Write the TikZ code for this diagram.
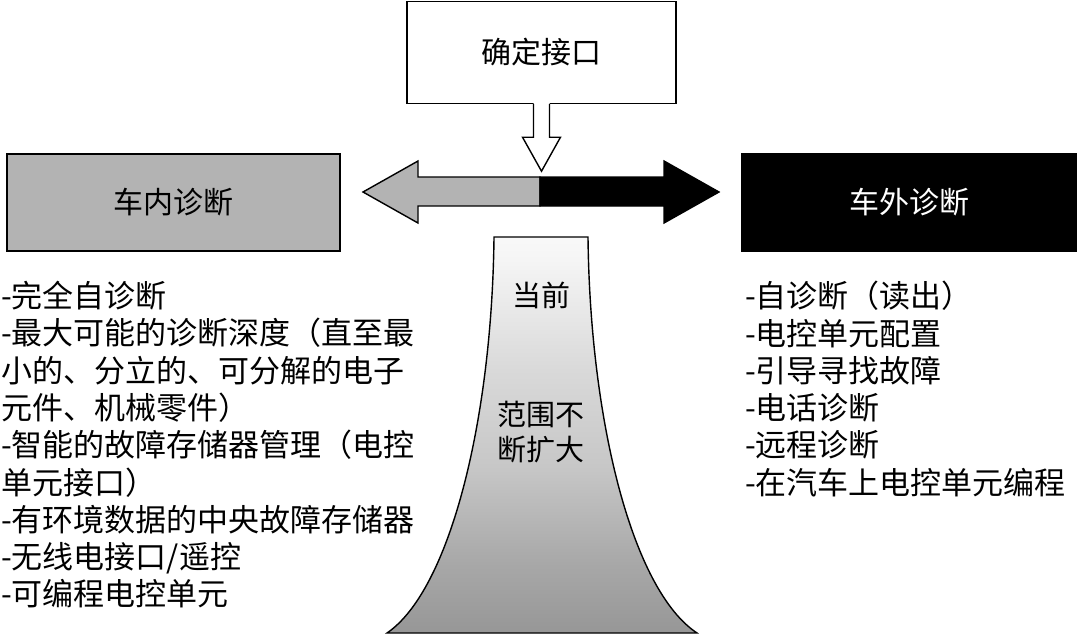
\documentclass[tikz,border=0pt]{standalone}
\usepackage{fontspec}
\setmainfont{Noto Sans CJK SC}
\usetikzlibrary{positioning,calc}
\definecolor{Ash}{HTML}{B3B3B3}
\pgfdeclareverticalshading{peak}{100bp}{color(0bp)=(black!60); color(8bp)=(black!53); color(21bp)=(black!44); color(34bp)=(black!34); color(46bp)=(black!22); color(58bp)=(black!15); color(72bp)=(black!4); color(80bp)=(white); color(100bp)=(white)}

\begin{document}
\begin{tikzpicture}[x=1pt, y=-1pt,
    block/.style={rectangle, draw, line width=1.4pt, text=black, minimum height=97pt, align=center, font=\fontsize{30}{35}\selectfont},
    list/.style={anchor=north west, inner sep=0pt, align=left, font=\fontsize{31}{37.3}\selectfont},
    outline/.style={draw, line width=1.4pt, line join=miter},
    label/.style={font=\fontsize{29}{35}\selectfont, align=center}
]
\useasboundingbox (0,0) rectangle (1077,635);

\node[block, minimum width=269pt, minimum height=102pt, fill=white] (iface) at (541.5,52.5) {确定接口};
\node[block, minimum width=333pt, fill=Ash] (inner) at (173.5,202.5) {车内诊断};
\node[block, minimum width=335pt, fill=black, text=white] (outer) at (909.5,202.5) {车外诊断};

% hollow arrow out of the interface box
\fill[white] ($(iface.south)+(-8,-2)$) -- ($(iface.south)+(-8,33)$) -- ($(iface.south)+(-19,33)$) -- ($(iface.south)+(0,67)$)
    -- ($(iface.south)+(19,33)$) -- ($(iface.south)+(8,33)$) -- ($(iface.south)+(8,-2)$) -- cycle;
\draw[outline] ($(iface.south)+(-8,0)$) -- ($(iface.south)+(-8,33)$) -- ($(iface.south)+(-19,33)$) -- ($(iface.south)+(0,67)$)
    -- ($(iface.south)+(19,33)$) -- ($(iface.south)+(8,33)$) -- ($(iface.south)+(8,0)$);

% two-coloured double arrow
\coordinate (split) at (540,192);
\filldraw[outline, fill=Ash] (540,177) -- (418,177) -- (418,161) -- (363,192) -- (418,223) -- (418,206) -- (540,206) -- cycle;
\filldraw[outline, fill=black] (540,177) -- (664,177) -- (664,161) -- (719,192) -- (664,223) -- (664,206) -- (540,206) -- cycle;

% widening scope
\shadedraw[outline, shading=peak] (494,237) -- (588,237) .. controls (590,420) and (632,590) .. (697,633)
    -- (387,633) .. controls (450,590) and (492,420) .. (494,237) -- cycle;
\node[label] (now) at (541,295) {当前};
\node[label] (wider) at (541,432) {范围不\\断扩大};

\node[list] (inlist) at (1,281) {-完全自诊断\\-最大可能的诊断深度（直至最\\小的、分立的、可分解的电子\\元件、机械零件）\\-智能的故障存储器管理（电控\\单元接口）\\-有环境数据的中央故障存储器\\-无线电接口/遥控\\-可编程电控单元};
\node[list] (outlist) at (745,281) {-自诊断（读出）\\-电控单元配置\\-引导寻找故障\\-电话诊断\\-远程诊断\\-在汽车上电控单元编程};
\end{tikzpicture}
\end{document}
